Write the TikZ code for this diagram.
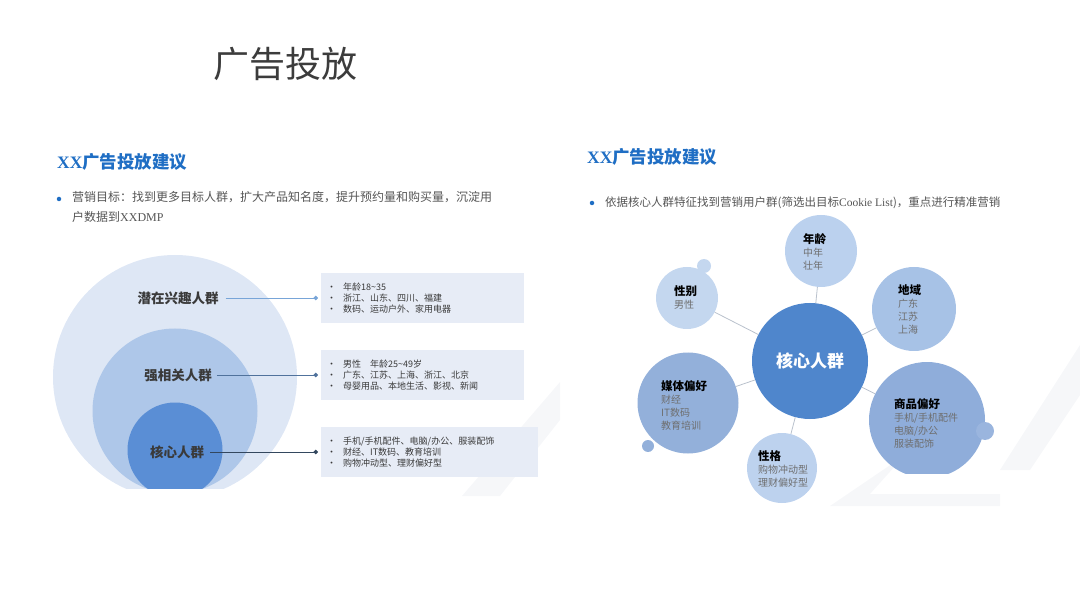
\documentclass[tikz,border=0pt]{standalone}
\usepackage{fontspec}
\setmainfont{Noto Sans CJK SC}
\newfontfamily\latin{Liberation Serif}
\usetikzlibrary{positioning,arrows.meta}

\definecolor{headblue}{HTML}{1F6EC4}
\definecolor{titlegrey}{HTML}{3C3C3C}
\definecolor{textgrey}{HTML}{555555}
\definecolor{labelgrey}{HTML}{3A3A3A}
\definecolor{itemgrey}{HTML}{6E6E6E}
\definecolor{ringA}{HTML}{DEE7F5}
\definecolor{ringB}{HTML}{AEC7E9}
\definecolor{ringC}{HTML}{5A8ED5}
\definecolor{boxfill}{HTML}{E7ECF6}
\definecolor{lineA}{HTML}{78A5D8}
\definecolor{lineB}{HTML}{50729C}
\definecolor{lineC}{HTML}{33475E}
\definecolor{coreblue}{HTML}{4F86CC}
\definecolor{ageblue}{HTML}{BBD1EE}
\definecolor{sexblue}{HTML}{C4D7EF}
\definecolor{regionblue}{HTML}{A7C2E6}
\definecolor{mediablue}{HTML}{93B0DA}
\definecolor{traitblue}{HTML}{BDD2EE}
\definecolor{goodsblue}{HTML}{8FADDA}
\definecolor{spoke}{HTML}{B9C1CC}
\definecolor{ghost}{HTML}{F6F7F9}

\tikzstyle{ring} = [circle, inner sep=0pt]
\tikzstyle{ringlabel} = [inner sep=0pt, text=labelgrey, font=\fontsize{13.5}{16}\selectfont\bfseries]
\tikzstyle{leader} = [draw, line width=0.9pt, -{Circle[length=4.5pt]}]
\tikzstyle{infobox} = [rectangle, fill=boxfill, anchor=west, align=left, inner xsep=6pt,
text=labelgrey, minimum height=50pt, font=\fontsize{9}{11}\selectfont]
\tikzstyle{heading} = [inner sep=0pt, anchor=west, text=headblue, font=\fontsize{17.5}{20}\selectfont\bfseries]
\tikzstyle{bullet} = [circle, fill=headblue, inner sep=0pt, minimum size=4.5pt]
\tikzstyle{bubble} = [circle, inner sep=0pt]
\tikzstyle{bubtext} = [inner sep=0pt, anchor=west, align=left, text=itemgrey, font=\fontsize{10}{13}\selectfont]
\tikzstyle{spokeline} = [draw=spoke, line width=0.8pt]

\newcommand{\bubtitle}[1]{\textcolor{black}{\fontsize{11.5}{13}\selectfont\bfseries #1}}
\newcommand{\itm}{\makebox[16pt][l]{•}}

\begin{document}
\begin{tikzpicture}[x=1pt, y=-1pt]
\useasboundingbox (0,0) rectangle (1080,604);

% faint background shapes
\fill[ghost] (462,496) -- (560,382) -- (560,420) -- (500,496) -- cycle;
\fill[ghost] (830,506) -- (1000,506) -- (1000,494) -- (870,494) -- (905,455) -- cycle;
\fill[ghost] (1000,470) -- (1080,345) -- (1080,395) -- (1030,470) -- cycle;

\node[inner sep=0pt, text=titlegrey, font=\fontsize{36}{40}\selectfont] (title) at (285,64) {广告投放};

% left part
\node[heading] (headL) at (57,162) {{\latin XX}广告投放建议};
\node[bullet] (dotL) at (59,199) {};
\node[inner sep=0pt, anchor=north west, align=left, text=textgrey,
  font=\fontsize{12}{20}\selectfont] (goalL) at (72,191)
  {营销目标：找到更多目标人群，扩大产品知名度，提升预约量和购买量，沉淀用\\户数据到{\latin XXDMP}};

\begin{scope}
\clip (40,240) rectangle (310,488);
\node[ring, fill=ringA, minimum size=244pt] (outer) at (175,377) {};
\node[ring, fill=ringB, minimum size=165pt] (middle) at (175,411) {};
\node[ring, fill=ringC, minimum size=95pt] (inner) at (175,450) {};
\end{scope}

\node[ringlabel] (lblA) at (178,298) {潜在兴趣人群};
\node[ringlabel] (lblB) at (178,375) {强相关人群};
\node[ringlabel] (lblC) at (177,452) {核心人群};

\coordinate (endA) at (318,298);
\coordinate (endB) at (318,375);
\coordinate (endC) at (318,452);
\path [leader, lineA] ([xshift=7pt]lblA.east) -- (endA);
\path [leader, lineB] ([xshift=5pt]lblB.east) -- (endB);
\path [leader, lineC] ([xshift=6pt]lblC.east) -- (endC);

\node[infobox, minimum width=203pt, text width=191pt, right=3pt of endA] (boxA)
  {\itm 年龄18\textasciitilde35\\\itm 浙江、山东、四川、福建\\\itm 数码、运动户外、家用电器};
\node[infobox, minimum width=203pt, text width=191pt, right=3pt of endB] (boxB)
  {\itm 男性\quad 年龄25\textasciitilde49岁\\\itm 广东、江苏、上海、浙江、北京\\\itm 母婴用品、本地生活、影视、新闻};
\node[infobox, minimum width=217pt, text width=205pt, right=3pt of endC] (boxC)
  {\itm 手机/手机配件、电脑/办公、服装配饰\\\itm 财经、IT数码、教育培训\\\itm 购物冲动型、理财偏好型};

% right part
\node[heading] (headR) at (587,157) {{\latin XX}广告投放建议};
\node[bullet] (dotR) at (592,203) {};
\node[inner sep=0pt, anchor=west, text=textgrey, font=\fontsize{11.5}{14}\selectfont] (goalR) at (605,203)
  {依据核心人群特征找到营销用户群(筛选出目标{\latin Cookie List})，重点进行精准营销};

\node[bubble, fill=coreblue, minimum size=116pt, text=white,
  font=\fontsize{17}{20}\selectfont\bfseries] (core) at (810,361) {核心人群};
\node[bubble, fill=ageblue, minimum size=72pt] (age) at (821,251) {};
\node[bubble, fill=sexblue, minimum size=62pt] (sex) at (687,298) {};
\node[bubble, fill=regionblue, minimum size=84pt] (region) at (914,309) {};
\node[bubble, fill=mediablue, minimum size=101pt] (media) at (688,403) {};
\node[bubble, fill=traitblue, minimum size=70pt] (trait) at (782,468) {};
\begin{scope}
\clip (860,350) rectangle (1000,473);
\node[bubble, fill=goodsblue, minimum size=116pt] (goods) at (927,420) {};
\end{scope}

\node[bubble, fill=sexblue, minimum size=14pt] (sexdot) at (704,266) {};
\node[bubble, fill=mediablue, minimum size=12pt] (mediadot) at (648,446) {};
\node[bubble, fill=goodsblue!90!white, minimum size=18pt] (goodsdot) at (985,431) {};

\foreach \sat in {age,sex,region,media,trait,goods}
  \path [spokeline] (core) -- (\sat);

\node[bubtext] (agetxt) at (803,252) {\bubtitle{年龄}\\中年\\壮年};
\node[bubtext] (sextxt) at (674,297) {\bubtitle{性别}\\男性};
\node[bubtext] (regiontxt) at (898,309) {\bubtitle{地域}\\广东\\江苏\\上海};
\node[bubtext] (mediatxt) at (661,405) {\bubtitle{媒体偏好}\\财经\\IT数码\\教育培训};
\node[bubtext] (goodstxt) at (894,423) {\bubtitle{商品偏好}\\手机/手机配件\\电脑/办公\\服装配饰};
\node[bubtext] (traittxt) at (758,469) {\bubtitle{性格}\\购物冲动型\\理财偏好型};
\end{tikzpicture}
\end{document}
